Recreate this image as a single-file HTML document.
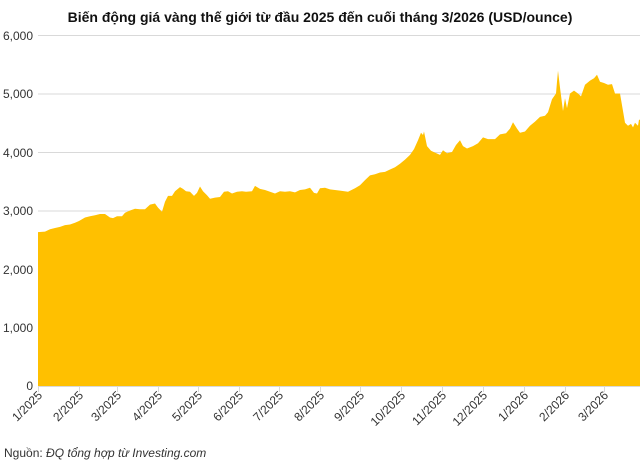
<!DOCTYPE html>
<html><head><meta charset="utf-8"><style>
body{margin:0;background:#fff;}
svg{display:block;font-family:"Liberation Sans",sans-serif;}
</style></head><body>
<svg width="640" height="467" viewBox="0 0 640 467">
<text x="320" y="22" text-anchor="middle" font-size="14" font-weight="bold" fill="#111">Biến động giá vàng thế giới từ đầu 2025 đến cuối tháng 3/2026 (USD/ounce)</text>
<g stroke="#d9d9d9" stroke-width="1">
<line x1="38" x2="640" y1="35.5" y2="35.5"/>
<line x1="38" x2="640" y1="94" y2="94"/>
<line x1="38" x2="640" y1="152.5" y2="152.5"/>
<line x1="38" x2="640" y1="211" y2="211"/>
<line x1="38" x2="640" y1="269.5" y2="269.5"/>
<line x1="38" x2="640" y1="328" y2="328"/>
</g>
<g font-size="12" fill="#333" text-anchor="end">
<text x="33" y="40">6,000</text><text x="33" y="98">5,000</text><text x="33" y="157">4,000</text>
<text x="33" y="215">3,000</text><text x="33" y="274">2,000</text><text x="33" y="332">1,000</text><text x="33" y="390">0</text>
</g>
<polygon fill="#FFC000" points="38,386 38,232.1 45,231.6 50,229.2 55,228 60,226.9 65,225.1 70,224.5 75,222.8 79,221 85,217.5 90,216.3 95,215.2 100,214 105,214 110,217.5 113,218.1 117,216.3 122,216.3 125,212.8 130,210.5 135,208.7 140,209.3 145,209.3 150,204.6 155,203.5 158,207.6 162,211.7 165,201.7 168,195.9 172,195.9 175,191.2 180,187.1 183,188.9 186,191.2 190,191.8 194,195.9 197,192.9 200,186.5 203,191.2 207,195.3 210,198.8 215,197.6 220,197 224,191.8 228,191.2 232,193.5 237,191.8 242,191.2 246,191.8 252,191.2 255,185.9 260,188.9 265,190 270,191.8 275,193.5 280,191.2 285,191.8 290,191.2 295,192.4 300,190 305,189.4 310,187.7 314,192.9 317,193.5 320,188.3 325,187.7 330,189.4 340,190.6 348,191.8 355,188.3 360,185.3 365,180.1 370,175.4 375,174.2 380,172.5 385,171.9 390,169.5 395,167.2 400,163.7 405,159.6 410,154.9 414,149.1 418,140.3 421,132.7 423,135 424,131.5 427,146.1 431,150.8 435,152.6 440,154.9 443,150.2 447,153.2 452,152 456,145 460,140.3 463,146.1 467,148.5 473,146.1 478,143.2 483,137.4 488,139.1 495,139.1 500,134.4 506,133.3 510,128.6 513,122.2 517,128.6 520,132.7 525,131.5 530,125.7 535,121.6 540,116.9 545,115.7 548,112.2 552,99.3 556,93.5 557,81.8 558,70.7 560,87.6 563,111 565,98.2 567,108.1 570,93.5 574,90.6 578,93.5 581,96.4 585,84.7 590,80.6 594,78.3 597,74.8 600,81.8 604,83 608,84.7 612,84.1 615,93.5 620,93.5 623,111 625,122.7 628,125.7 631,123.9 633,127.4 635,122.7 638,125.7 639,119.8 640,119.8 640,386"/>
<line x1="38" x2="640" y1="386.5" y2="386.5" stroke="#d9d9d9"/>
<g stroke="#d9d9d9">
<line x1="38.5" x2="38.5" y1="386" y2="392"/><line x1="79.5" x2="79.5" y1="386" y2="392"/><line x1="117.5" x2="117.5" y1="386" y2="392"/><line x1="158.5" x2="158.5" y1="386" y2="392"/><line x1="198.5" x2="198.5" y1="386" y2="392"/><line x1="239.5" x2="239.5" y1="386" y2="392"/><line x1="279.5" x2="279.5" y1="386" y2="392"/><line x1="320.5" x2="320.5" y1="386" y2="392"/><line x1="360.5" x2="360.5" y1="386" y2="392"/><line x1="401.5" x2="401.5" y1="386" y2="392"/><line x1="442.5" x2="442.5" y1="386" y2="392"/><line x1="483.5" x2="483.5" y1="386" y2="392"/><line x1="524.5" x2="524.5" y1="386" y2="392"/><line x1="565.5" x2="565.5" y1="386" y2="392"/><line x1="604.5" x2="604.5" y1="386" y2="392"/>
</g>
<g font-size="12" fill="#333" text-anchor="end">
<text transform="translate(43,396) rotate(-45)">1/2025</text>
<text transform="translate(84,396) rotate(-45)">2/2025</text>
<text transform="translate(122,396) rotate(-45)">3/2025</text>
<text transform="translate(163,396) rotate(-45)">4/2025</text>
<text transform="translate(203,396) rotate(-45)">5/2025</text>
<text transform="translate(244,396) rotate(-45)">6/2025</text>
<text transform="translate(284,396) rotate(-45)">7/2025</text>
<text transform="translate(325,396) rotate(-45)">8/2025</text>
<text transform="translate(365,396) rotate(-45)">9/2025</text>
<text transform="translate(406,396) rotate(-45)">10/2025</text>
<text transform="translate(447,396) rotate(-45)">11/2025</text>
<text transform="translate(488,396) rotate(-45)">12/2025</text>
<text transform="translate(529,396) rotate(-45)">1/2026</text>
<text transform="translate(570,396) rotate(-45)">2/2026</text>
<text transform="translate(609,396) rotate(-45)">3/2026</text>
</g>
<text x="4" y="457" font-size="12" fill="#333">Nguồn: <tspan font-style="italic">ĐQ tổng hợp từ Investing.com</tspan></text>
</svg>
</body></html>
